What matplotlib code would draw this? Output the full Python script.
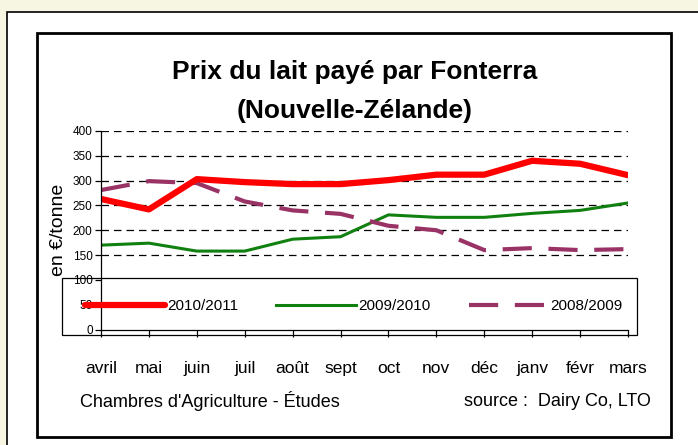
import matplotlib
matplotlib.use('Agg')
import matplotlib.pyplot as plt
from matplotlib.patches import Rectangle

# Data (EUR/tonne)
months = ['avril', 'mai', 'juin', 'juil', 'août', 'sept', 'oct', 'nov',
          'déc', 'janv', 'févr', 'mars']
prix_2010_2011 = [263, 242, 303, 297, 293, 293, 301, 312, 312, 340, 334, 311]
prix_2009_2010 = [170, 174, 158, 158, 182, 187, 231, 226, 226, 234, 240, 255]
prix_2008_2009 = [281, 299, 295, 258, 240, 233, 209, 200, 160, 164, 160, 162]
y_ticks = [0, 50, 100, 150, 200, 250, 300, 350, 400]

plt.rcParams['font.family'] = ['Liberation Sans Narrow', 'Liberation Sans',
                               'DejaVu Sans']

W, H = 698, 445
fig = plt.figure(figsize=(W / 100, H / 100), dpi=100)
fig.patch.set_facecolor('#f7f6e2')


def fx(px):
    return px / W


def fy(py):
    return 1 - py / H


# outer white panel and inner framed box
fig.patches.append(Rectangle((fx(7), fy(460)), fx(720), fy(12) - fy(460),
                             transform=fig.transFigure, facecolor='white',
                             edgecolor='black', lw=1.2, zorder=-2))
fig.patches.append(Rectangle((fx(37), fy(437)), fx(671 - 37), fy(33) - fy(437),
                             transform=fig.transFigure, facecolor='white',
                             edgecolor='black', lw=2, zorder=-1))

ax = fig.add_axes([fx(101), fy(329.5), fx(628 - 101), fy(131) - fy(329.5)])
ax.set_zorder(1)
ax.set_facecolor('none')
x = list(range(len(months)))

ax.plot(x, prix_2010_2011, color='#ff0000', lw=4.5, solid_capstyle='round',
        label='2010/2011', zorder=4)
ax.plot(x, prix_2009_2010, color='#108010', lw=2.2, label='2009/2010', zorder=3)
ax.plot(x, prix_2008_2009, color='#993366', lw=3, dashes=(7, 4),
        label='2008/2009', zorder=3)

for v in y_ticks:
    if v >= 150:
        ax.axhline(v, color='black', lw=0.9, dashes=(6, 4), zorder=1)

ax.set_xlim(0, 11)
ax.set_ylim(0, 400)
ax.set_yticks(y_ticks)
ax.set_yticklabels([str(v) for v in y_ticks], fontsize=8.5)
ax.set_xticks(x)
ax.set_xticklabels(months, fontsize=12.5)
ax.tick_params(axis='x', length=5, pad=18, width=0.9)
ax.tick_params(axis='y', length=4, pad=2, width=0.9)
for side in ['top', 'right']:
    ax.spines[side].set_visible(False)
ax.spines['left'].set_linewidth(0.9)
ax.spines['bottom'].set_linewidth(0.9)
ax.yaxis.set_zorder(5)
ax.xaxis.set_zorder(5)
ax.spines['left'].set_zorder(5)
ax.spines['bottom'].set_zorder(5)

ax.set_ylabel('en €/tonne', fontsize=14, labelpad=4)

# legend box spanning the lower part of the plot: frame behind the axis,
# entries in front of it
pw = 628 - 101
ph = 329.5 - 131
x0, x1 = (62 - 101) / pw, (637 - 101) / pw
y0, y1 = (329.5 - 335) / ph, (329.5 - 278) / ph
ax.add_patch(Rectangle((x0, y0), x1 - x0, y1 - y0, transform=ax.transAxes,
                       facecolor='white', edgecolor='black', lw=0.9,
                       clip_on=False, zorder=0.5))
lx0, lx1 = (76 - 101) / pw, (632 - 101) / pw
leg = ax.legend(loc='center', bbox_to_anchor=(lx0, y0, lx1 - lx0, y1 - y0),
                mode='expand', ncol=3, fontsize=11, handlelength=5.2,
                handletextpad=0.15, borderaxespad=0, frameon=False,
                borderpad=0.6)
leg.set_zorder(7)

fig.text(fx(355), fy(72), 'Prix du lait payé par Fonterra', fontsize=19,
         fontweight='bold', ha='center', va='center')
fig.text(fx(355), fy(111), '(Nouvelle-Zélande)', fontsize=19,
         fontweight='bold', ha='center', va='center')

fig.text(fx(80), fy(401), "Chambres d'Agriculture - Études", fontsize=13,
         ha='left', va='center')
fig.text(fx(651), fy(401), 'source :  Dairy Co, LTO', fontsize=13,
         ha='right', va='center')

fig.savefig('out.png', dpi=100, facecolor=fig.get_facecolor())
